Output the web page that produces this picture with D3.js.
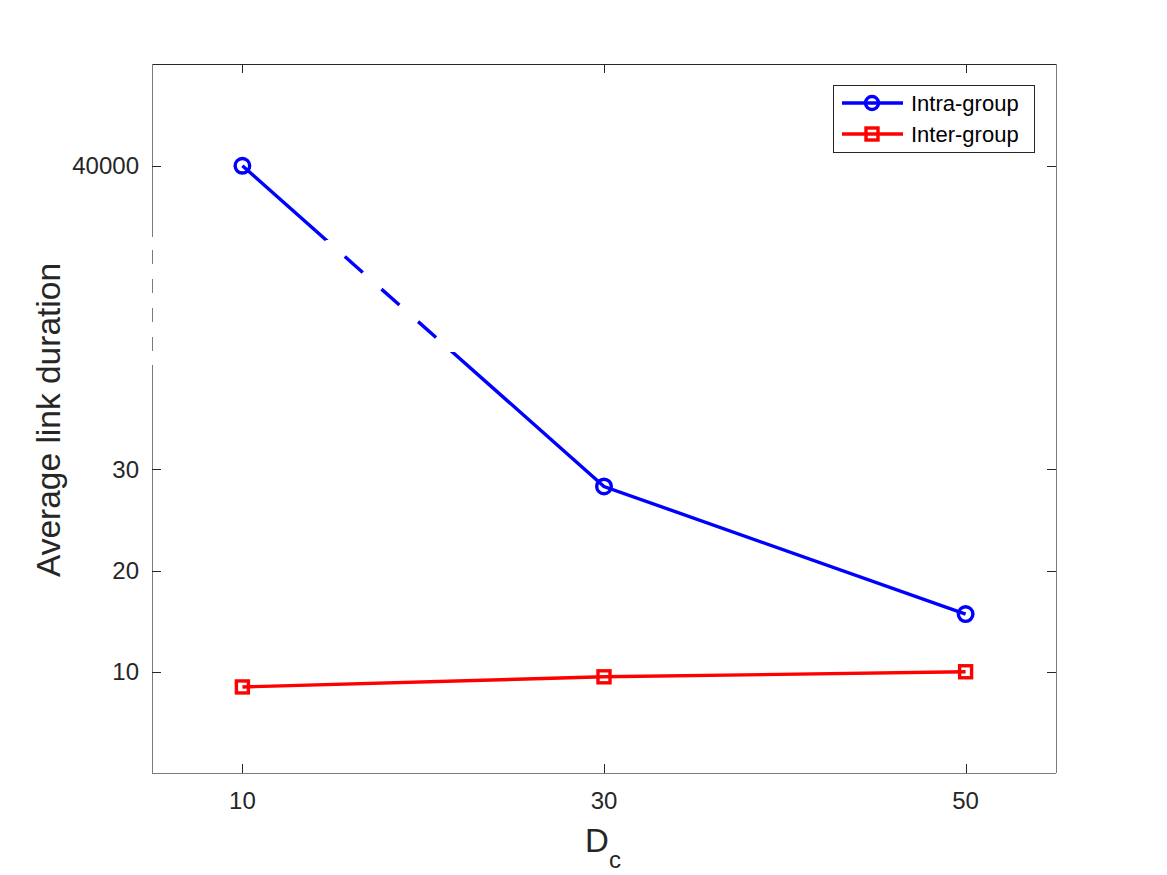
<!DOCTYPE html>
<html><head><meta charset="utf-8">
<script src="https://cdn.jsdelivr.net/npm/d3@7"></script>
<style>body{margin:0;background:#fff}svg{display:block}text{font-family:"Liberation Sans",Arial,Helvetica,sans-serif}</style>
</head><body>
<script>
const categories = [10, 30, 50];
const intraGroup = [40000, 28.3, 15.7];
const interGroup = [8.5, 9.5, 10.0];
const xTicks = [10, 30, 50];
const yTicks = [10, 20, 30, 40000];
const yTickLabels = ["10", "20", "30", "40000"];
const seriesNames = ["Intra-group", "Inter-group"];

const W = 1167, H = 875;
const L = 152, R = 1056, T = 64, B = 773;
const svg = d3.select("body").append("svg").attr("width", W).attr("height", H);

const x = d3.scaleLinear().domain([5, 55]).range([L, R]);
// broken axis: lower segment 0..40.3, upper segment 39930..40100
const y = d3.scaleLinear().domain([0, 40.3, 39930, 40100]).range([B, 365, 237, T]);
const breakTop = 240, breakBot = 352;

const defs = svg.append("defs");
defs.append("clipPath").attr("id", "outside").selectAll("rect")
  .data([[T, breakTop], [breakBot, B]]).join("rect")
  .attr("x", L).attr("width", R - L).attr("y", d => d[0]).attr("height", d => d[1] - d[0]);
defs.append("clipPath").attr("id", "inside").append("rect")
  .attr("x", L).attr("width", R - L).attr("y", breakTop).attr("height", breakBot - breakTop);

// axes lines
const axisG = svg.append("g");
axisG.append("line").attr("x1", L).attr("x2", R).attr("y1", T + 0.5).attr("y2", T + 0.5).attr("stroke", "#262626");
axisG.append("line").attr("x1", L).attr("x2", R).attr("y1", B + 0.5).attr("y2", B + 0.5).attr("stroke", "#7a7a7a");
axisG.append("line").attr("x1", R + 0.5).attr("x2", R + 0.5).attr("y1", T).attr("y2", B).attr("stroke", "#7a7a7a");
// left axis with break
axisG.append("line").attr("x1", L + 0.5).attr("x2", L + 0.5).attr("y1", T).attr("y2", 237).attr("stroke", "#7a7a7a");
axisG.append("line").attr("x1", L + 0.5).attr("x2", L + 0.5).attr("y1", 365).attr("y2", B).attr("stroke", "#7a7a7a");
axisG.append("line").attr("x1", L + 0.5).attr("x2", L + 0.5).attr("y1", 237).attr("y2", 365)
  .attr("stroke", "#7a7a7a").attr("stroke-dasharray", "0 13 14 15 14 15 14 15 14 15");

// ticks
const tl = 9;
xTicks.forEach(v => {
  const px = Math.round(x(v)) + 0.5;
  axisG.append("line").attr("x1", px).attr("x2", px).attr("y1", B).attr("y2", B - tl).attr("stroke", "#262626");
  axisG.append("line").attr("x1", px).attr("x2", px).attr("y1", T).attr("y2", T + tl).attr("stroke", "#262626");
  axisG.append("text").attr("x", x(v)).attr("y", 809).attr("text-anchor", "middle")
    .attr("font-size", 24).attr("fill", "#262626").text(v);
});
yTicks.forEach((v, i) => {
  const py = Math.round(y(v)) + 0.5;
  axisG.append("line").attr("x1", L).attr("x2", L + tl).attr("y1", py).attr("y2", py).attr("stroke", "#262626");
  axisG.append("line").attr("x1", R).attr("x2", R - tl).attr("y1", py).attr("y2", py).attr("stroke", "#262626");
  axisG.append("text").attr("x", 139).attr("y", y(v) + 8.5).attr("text-anchor", "end")
    .attr("font-size", 24).attr("fill", "#262626").text(yTickLabels[i]);
});

// axis labels
svg.append("text").attr("transform", "translate(60,420) rotate(-90)").attr("text-anchor", "middle")
  .attr("font-size", 33.5).attr("fill", "#262626").text("Average link duration");
const xl = svg.append("text").attr("x", 603).attr("y", 852).attr("text-anchor", "middle")
  .attr("font-size", 33).attr("fill", "#262626");
xl.append("tspan").text("D");
xl.append("tspan").attr("font-size", 24).attr("dy", 16).text("c");

// data
const intraPts = categories.map((c, i) => [x(c), y(intraGroup[i])]);
const interPts = categories.map((c, i) => [x(c), y(interGroup[i])]);
const line = d3.line();

svg.append("path").attr("d", line(intraPts)).attr("fill", "none").attr("stroke", "#0000ff")
  .attr("stroke-width", 3.4).attr("clip-path", "url(#outside)");
// dash offset so that the gap starts at the break top
const p0 = intraPts[0], p1 = intraPts[1];
const t = (breakTop - p0[1]) / (p1[1] - p0[1]);
const dEntry = Math.hypot((p1[0] - p0[0]) * t, (p1[1] - p0[1]) * t);
const dash = 24, gap = 25, per = dash + gap;
const off = ((dash - dEntry) % per + per) % per;
svg.append("path").attr("d", line(intraPts)).attr("fill", "none").attr("stroke", "#0000ff")
  .attr("stroke-width", 3.4).attr("clip-path", "url(#inside)")
  .attr("stroke-dasharray", dash + " " + gap).attr("stroke-dashoffset", off);

svg.append("path").attr("d", line(interPts)).attr("fill", "none").attr("stroke", "#ff0000").attr("stroke-width", 3.4);

svg.selectAll("circle.m").data(intraPts).join("circle").attr("class", "m")
  .attr("cx", d => d[0]).attr("cy", d => d[1]).attr("r", 7.3)
  .attr("fill", "none").attr("stroke", "#0000ff").attr("stroke-width", 3.4);
svg.selectAll("rect.m").data(interPts).join("rect").attr("class", "m")
  .attr("x", d => d[0] - 6).attr("y", d => d[1] - 6).attr("width", 12).attr("height", 12)
  .attr("fill", "none").attr("stroke", "#ff0000").attr("stroke-width", 3.4);

// legend
const lg = svg.append("g");
lg.append("rect").attr("x", 833.5).attr("y", 85.5).attr("width", 201).attr("height", 67)
  .attr("fill", "#fff").attr("stroke", "#262626").attr("stroke-width", 1);
const rows = [103, 134];
rows.forEach((ry, i) => {
  const col = i === 0 ? "#0000ff" : "#ff0000";
  lg.append("line").attr("x1", 842).attr("x2", 903).attr("y1", ry).attr("y2", ry).attr("stroke", col).attr("stroke-width", 3.4);
  if (i === 0) lg.append("circle").attr("cx", 872).attr("cy", ry).attr("r", 6.5).attr("fill", "none").attr("stroke", col).attr("stroke-width", 3.4);
  else lg.append("rect").attr("x", 866).attr("y", ry - 6).attr("width", 12).attr("height", 12).attr("fill", "none").attr("stroke", col).attr("stroke-width", 3.4);
  lg.append("text").attr("x", 911).attr("y", ry + 8).attr("font-size", 22).attr("fill", "#000").text(seriesNames[i]);
});
</script>
</body></html>
